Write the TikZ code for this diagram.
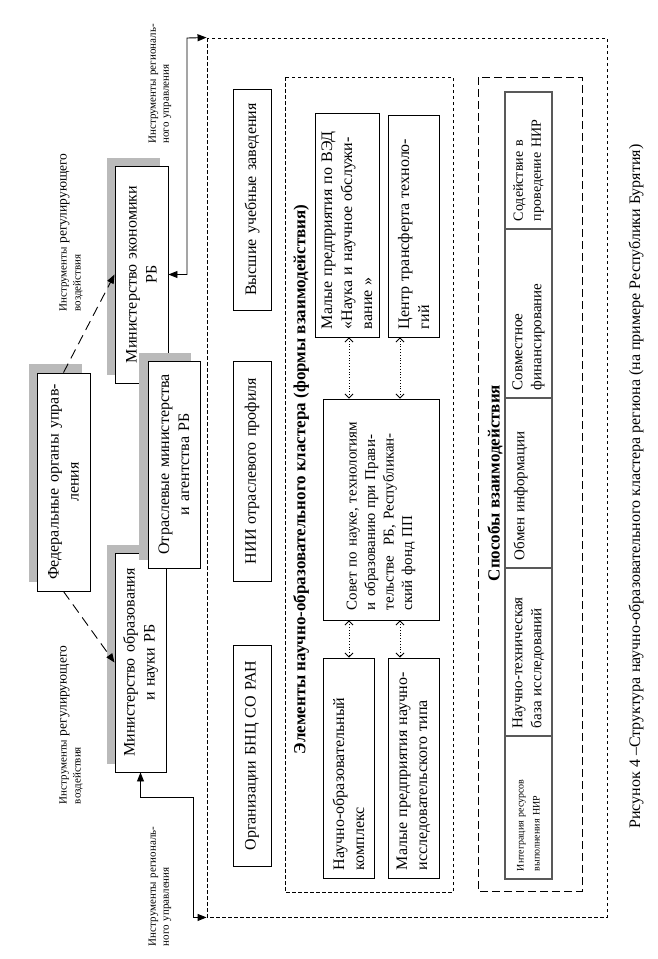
\documentclass[tikz,border=0pt]{standalone}
\usepackage{fontspec}
\setmainfont{Liberation Serif}
\usetikzlibrary{arrows.meta}
\newcommand\fsz[2]{\fontsize{#1}{#2}\selectfont}
\begin{document}
\begin{tikzpicture}[x=1pt,y=-1pt,
  bx/.style={draw, line width=0.9pt, fill=white, rotate=90, inner xsep=8pt, inner ysep=2pt, font=\fsz{16}{20}},
  cell/.style={draw=black!65, line width=1.5pt, fill=white, rotate=90, inner xsep=8pt, inner ysep=2pt, font=\fsz{15}{19}, align=left},
  lbl/.style={rotate=90, inner sep=0pt, align=left, font=\fsz{11}{13}},
  frm/.style={draw, line width=0.9pt, rotate=90, dash pattern=on 3.5pt off 2.5pt},
  sh/.style={fill=black!27},
  arr/.style={line width=0.9pt, {Triangle[length=9pt,width=7pt]}-{Triangle[length=9pt,width=7pt]}},
  darr/.style={line width=0.9pt, dash pattern=on 10pt off 6pt, -{Triangle[length=9pt,width=7pt]}},
  dotarr/.style={line width=0.8pt, dotted, {Straight Barb[length=4pt,width=8pt]}-{Straight Barb[length=4pt,width=8pt]}},
  ttl/.style={rotate=90, inner sep=0pt, font=\fsz{17}{20}\bfseries},
]
\useasboundingbox (0,0) rectangle (658,959);

% frames
\node[frm, minimum width=879pt, minimum height=400pt] (outer) at (407,477.5) {};
\node[frm, minimum width=815pt, minimum height=168pt] (elem) at (369,484.5) {};
\node[frm, dash pattern=on 8pt off 4pt, minimum width=814pt, minimum height=104pt] (spos) at (530,484) {};

% left group with shadows
\fill[sh] (29,364) rectangle (82,582);
\node[bx, minimum width=218pt, minimum height=53pt, text width=202pt, align=center] (fed) at (63.5,482) {Федеральные органы управ-\\ления};
\fill[sh] (107,158) rectangle (160,375);
\node[bx, minimum width=217pt, minimum height=53pt, text width=201pt, align=center] (econ) at (141.5,274.5) {Министерство экономики\\РБ};
\fill[sh] (107,545) rectangle (158,764);
\node[bx, minimum width=219pt, minimum height=51pt, text width=203pt, align=center] (edu) at (140.5,662.5) {Министерство образования\\и науки РБ};
\fill[sh] (139,353) rectangle (191,560);
\node[bx, minimum width=207pt, minimum height=52pt, text width=191pt, align=center] (otr) at (174,464.5) {Отраслевые министерства\\и агентства РБ};

% column of organisations
\node[bx, minimum width=221pt, minimum height=38pt, text width=205pt, align=center] (vuz) at (252,199.5) {Высшие учебные заведения};
\node[bx, minimum width=220pt, minimum height=38pt, text width=204pt, align=center] (nii) at (252,471) {НИИ отраслевого профиля};
\node[bx, minimum width=221pt, minimum height=38pt, text width=205pt, align=center] (bnc) at (252,755.5) {Организации БНЦ СО РАН};

% elements
\node[ttl] (elemT) at (301,479.5) {Элементы научно-образовательного кластера (формы взаимодействия)};
\node[bx, minimum width=224pt, minimum height=64pt, text width=208pt, align=left] (malved) at (347,225) {Малые предприятия по ВЭД\\«Наука и научное обслужи-\\вание »};
\node[bx, minimum width=222pt, minimum height=51pt, text width=206pt, align=left] (centr) at (413.5,226) {Центр трансферта техноло-\\гий};
\node[bx, font=\fsz{15}{18.5}, inner xsep=10pt, minimum width=221pt, minimum height=116pt, text width=201pt, align=left] (sovet) at (381,509.5) {Совет по науке, технологиям\\и образованию при Прави-\\тельстве~ РБ, Республикан-\\ский фонд ПП};
\node[bx, minimum width=220pt, minimum height=51pt, text width=204pt, align=left] (nok) at (348.5,768) {Научно-образовательный\\комплекс};
\node[bx, minimum width=220pt, minimum height=51pt, text width=204pt, align=left] (malnit) at (413.5,768) {Малые предприятия научно-\\исследовательского типа};

\coordinate (c1) at (349,0);
\coordinate (c2) at (400,0);
\draw[dotarr] (sovet.east -| c1) -- (malved.west -| c1);
\draw[dotarr] (sovet.east -| c2) -- (centr.west -| c2);
\draw[dotarr] (sovet.west -| c1) -- (nok.east -| c1);
\draw[dotarr] (sovet.west -| c2) -- (malnit.east -| c2);

% ways of interaction
\node[ttl] (sposT) at (495,483) {Способы взаимодействия};
\node[cell, font=\fsz{14}{18}, minimum width=137pt, minimum height=47pt, text width=121pt] (k1) at (528.5,160.5) {Содействие в\\проведение НИР};
\node[cell, minimum width=169pt, minimum height=47pt, text width=153pt] (k2) at (528.5,313.5) {Совместное\\финансирование};
\node[cell, minimum width=170pt, minimum height=47pt, text width=154pt] (k3) at (528.5,483) {Обмен информации\\\mbox{}};
\node[cell, minimum width=168pt, minimum height=47pt, text width=152pt] (k4) at (528.5,652) {Научно-техническая\\база исследований};
\node[cell, font=\fsz{10}{16}, minimum width=143pt, minimum height=47pt, text width=127pt] (k5) at (528.5,807.5) {Интеграция ресурсов\\выполнения НИР};

% labels
\node[lbl, text width=122pt] (regT) at (160,82.5) {Инструменты региональ-\\ного управления};
\node[lbl, text width=122pt] (regB) at (160,885) {Инструменты региональ-\\ного управления};
\node[lbl, font=\fsz{11}{14}, text width=160pt] (insT) at (71,231.5) {Инструменты {\fsz{13.5}{14}регулирующего}\\воздействия};
\node[lbl, font=\fsz{11}{14}, text width=160pt] (insB) at (71,724) {Инструменты {\fsz{13.5}{14}регулирующего}\\воздействия};

% connectors
\coordinate (tr) at (187,38);
\coordinate (bl) at (193,797);
\draw[arr] (econ.south) -| (tr) -- (outer.north east);
\draw[arr] (edu.west) |- (bl) |- (outer.north west);
\draw[darr] (fed.east) -- (econ.north);
\draw[darr] (fed.west) -- (edu.north);

% caption
\node[rotate=90, inner sep=0pt, font=\fsz{16}{20}] (cap) at (636,486.5) {Рисунок 4 –Структура научно-образовательного кластера региона (на примере Республики Бурятия)};
\end{tikzpicture}
\end{document}
